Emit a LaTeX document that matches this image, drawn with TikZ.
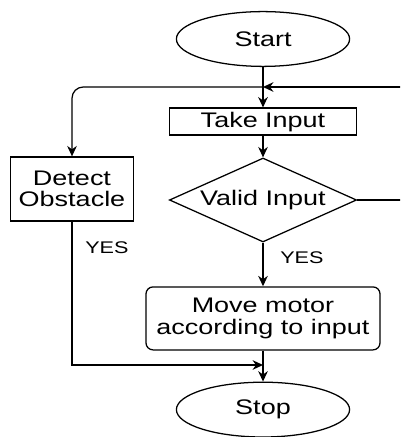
\documentclass[tikz,border=0pt]{standalone}
\usepackage{fontspec}
\setmainfont{Liberation Sans}[FakeStretch=1.28]
\usetikzlibrary{arrows.meta,positioning,shapes.geometric}

\begin{document}
\begin{tikzpicture}[
    terminal/.style={draw, ellipse, line width=0.9pt, minimum width=4.33cm, minimum height=1.37cm, font=\fontsize{15}{15}\selectfont},
    process/.style={draw, line width=0.9pt, align=center, inner sep=0pt, font=\fontsize{15}{15}\selectfont},
    decision/.style={draw, diamond, aspect=2.23, line width=0.9pt, inner sep=0pt, minimum width=4.68cm, minimum height=2.1cm, font=\fontsize{15}{15}\selectfont},
    flow/.style={-{Stealth[length=2.6mm, width=2.4mm]}, line width=0.9pt},
    answer/.style={font=\fontsize{12}{12}\selectfont, anchor=west},
]

\useasboundingbox (0,0) rectangle (10,-10.925);
\clip (0,0) rectangle (10,-10.925);

\node[terminal] (start) at (6.575,-0.975) {Start};
\node[process, minimum width=4.68cm, minimum height=0.675cm] (input) at (6.575,-3.04) {Take Input};
\node[decision] (valid) at (6.575,-5.0) {Valid Input};
\node[process, minimum width=3.08cm, minimum height=1.6cm] (detect) at (1.8,-4.725) {Detect\\Obstacle};
\node[process, rounded corners=5pt, minimum width=5.85cm, minimum height=1.575cm] (motor) at (6.575,-7.96) {Move motor\\according to input};
\node[terminal] (stop) at (6.575,-10.24) {Stop};

\coordinate (loop) at (6.575,-2.175);
\coordinate (join) at (6.575,-9.125);

\draw[flow] (start) -- (input);
\draw[flow] (valid.east) -- (10.4,-5.0) |- (loop);
\draw[flow, rounded corners=8pt] (loop) -| (detect);
\draw[flow] (input) -- (valid);
\draw[flow] (valid) -- node[answer, pos=0.35, xshift=0.3cm] {YES} (motor);
\draw[flow] (detect) |- node[answer, pos=0.09, xshift=0.2cm] {YES} (join);
\draw[flow] (motor) -- (stop);

\end{tikzpicture}
\end{document}
